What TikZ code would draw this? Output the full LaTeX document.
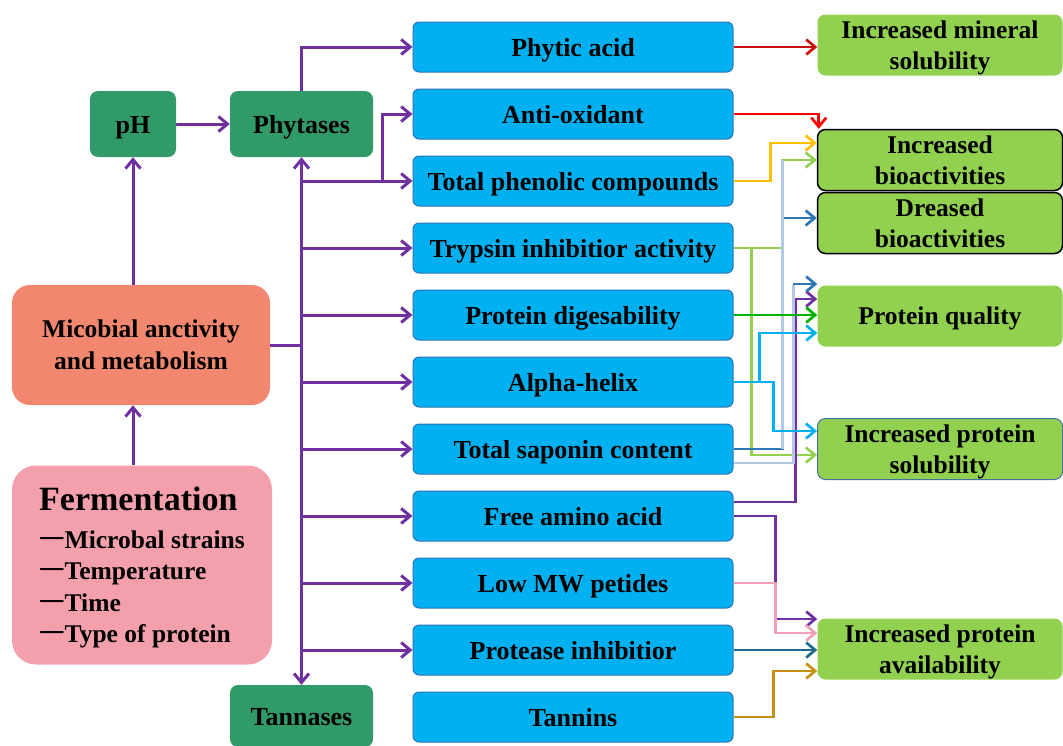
\documentclass[tikz,border=0pt]{standalone}
\usepackage{fontspec}
\setmainfont{Liberation Serif}
\newfontfamily\cjkfont{Noto Sans CJK SC}
\usetikzlibrary{arrows.meta, positioning}

\definecolor{boxblue}{RGB}{0,176,240}
\definecolor{edgeblue}{RGB}{46,117,182}
\definecolor{boxgreen}{RGB}{146,208,80}
\definecolor{enzgreen}{RGB}{48,155,105}
\definecolor{salmon}{RGB}{240,135,110}
\definecolor{rosy}{RGB}{243,160,172}
\definecolor{flowviolet}{RGB}{112,48,160}
\definecolor{golden}{RGB}{197,144,20}
\definecolor{yellowline}{RGB}{255,192,0}
\definecolor{lavender}{RGB}{180,199,231}
\definecolor{darkteal}{RGB}{31,105,140}
\definecolor{pinkline}{RGB}{240,160,180}
\definecolor{solborder}{RGB}{65,113,156}
\definecolor{darkred}{RGB}{200,16,16}

\begin{document}
\begin{tikzpicture}[
  x=1pt, y=-1pt,
  node distance=16pt and 84pt,
  midbox/.style={draw=edgeblue, line width=1pt, fill=boxblue, rounded corners=6pt, minimum width=320pt, minimum height=50pt, text height=18pt, text depth=0pt, font=\fontsize{26}{30}\selectfont\bfseries},
  outbox/.style={fill=boxgreen, rounded corners=8pt, minimum width=245pt, minimum height=61pt, align=center, text depth=0pt, font=\fontsize{25.5}{31}\selectfont\bfseries},
  enzbox/.style={fill=enzgreen, rounded corners=8pt, minimum height=66pt, text height=18pt, text depth=0pt, font=\fontsize{26}{30}\selectfont\bfseries},
  arrow/.style={-{Straight Barb[length=9pt,width=15pt]}, line width=3pt, draw=flowviolet},
  link/.style={-{Straight Barb[length=9pt,width=15pt]}, line width=2.7pt}
  ]
\useasboundingbox (0,0) rectangle (1063,745);

% Nodes
\node[midbox] (phy) at (573,47) {Phytic acid};
\node[midbox, below=of phy] (anti) {Anti-oxidant};
\node[midbox, below=of anti] (tpc) {Total phenolic compounds};
\node[midbox, below=of tpc] (tryp) {Trypsin inhibitior activity};
\node[midbox, below=of tryp] (prot) {Protein digesability};
\node[midbox, below=of prot] (alpha) {Alpha-helix};
\node[midbox, below=of alpha] (sap) {Total saponin content};
\node[midbox, below=of sap] (faa) {Free amino acid};
\node[midbox, below=of faa] (lmw) {Low MW petides};
\node[midbox, below=of lmw] (pi) {Protease inhibitior};
\node[midbox, below=of pi] (tann) {Tannins};

\node[outbox] (mineral) at (940,45) {Increased mineral\\solubility};
\node[outbox, draw=black, line width=1.5pt] (bio) at (940,160) {Increased\\bioactivities};
\node[outbox, draw=black, line width=1.5pt] (dres) at (940,223) {Dreased\\bioactivities};
\node[outbox] (qual) at (940,316) {Protein quality};
\node[outbox, draw=solborder, line width=1pt] (sol) at (940,449) {Increased protein\\solubility};
\node[outbox] (avail) at (940,649) {Increased protein\\availability};

\node[enzbox, minimum width=86pt] (ph) at (133,124) {pH};
\node[enzbox, minimum width=143pt] (phyt) at (301.5,124) {Phytases};
\node[enzbox, minimum width=143pt, minimum height=62pt] (tan) at (301.5,716) {Tannases};

\node[fill=salmon, rounded corners=18pt, minimum width=258pt, minimum height=120pt, align=center, font=\fontsize{25.5}{32}\selectfont\bfseries] (mic) at (141,345) {Micobial anctivity\\and metabolism};
\node[fill=rosy, rounded corners=24pt, minimum width=260pt, minimum height=199pt, align=left, text depth=0pt, font=\fontsize{25.5}{31.5}\selectfont\bfseries] (ferm) at (142,565) {{\fontsize{34}{36}\selectfont Fermentation}\\[6pt]{\cjkfont\mdseries 一}Microbal strains\\{\cjkfont\mdseries 一}Temperature\\{\cjkfont\mdseries 一}Time\\{\cjkfont\mdseries 一}Type of protein};

\coordinate (trunk) at (phyt.south |- mic.east);

% Arrows
\draw[arrow] (ph.south |- ferm.north) -- (ph.south |- mic.south);
\draw[arrow] (ph.south |- mic.north) -- (ph.south);
\draw[arrow] (ph) -- (phyt);
\draw[arrow] (phyt.north) |- (phy.west);
\draw[line width=3pt, flowviolet] (mic.east) -- (trunk);
\draw[arrow] (trunk) -- (phyt.south);
\draw[arrow] (trunk) -- (tan.north);
\foreach \n in {tpc,tryp,prot,alpha,sap,faa,lmw,pi}
  \draw[arrow] (trunk |- \n.west) -- (\n.west);
\draw[arrow] ([xshift=81pt]trunk |- tpc.west) |- (anti.west);

\draw[link, darkred] (phy.east) -- (phy.east -| mineral.west);
\draw[link, red] (anti.east) -| ([xshift=2pt]bio.north west);
\draw[link, yellowline] (tpc.east) -- ++(37,0) |- ([yshift=17pt]bio.west);
\draw[link, boxgreen] (tryp.east) -| ([xshift=-34pt]bio.west) -- (bio.west);
\draw[link, boxgreen] (tryp.east) -- ++(18,0) |- ([yshift=-6pt]sol.west);
\draw[link, edgeblue] (sap.east) -| ([xshift=-34pt,yshift=5pt]dres.west) -- ([yshift=5pt]dres.west);
\draw[line width=2.7pt, lavender] ([xshift=-34pt]bio.west) -- ([xshift=-34pt]bio.west |- sap.east);
\draw[link, flowviolet] ([yshift=14pt]faa.east) -| ([xshift=-22pt,yshift=17pt]qual.west) -- ([yshift=17pt]qual.west);
\draw[line width=2.7pt, lavender] ([yshift=-14pt]sap.east) -| ([xshift=-24pt,yshift=31pt]qual.west);
\draw[link, edgeblue] ([xshift=-24pt,yshift=32pt]qual.west) -- ([yshift=32pt]qual.west);
\draw[link, green!70!black] (prot.east) -- (prot.east -| qual.west);
\draw[link, boxblue] (alpha.east) -- ++(26,0) |- ([yshift=-17pt]qual.west);
\draw[link, boxblue] (alpha.east) -- ++(40,0) |- ([yshift=18pt]sol.west);

\draw[link, flowviolet] (faa.east) -- ++(42,0) |- ([yshift=30pt]avail.west);
\draw[link, pinkline] (lmw.east) -- ++(42,0) |- ([yshift=16pt]avail.west);
\draw[link, darkteal] (pi.east) -- (pi.east -| avail.west);
\draw[link, golden] (tann.east) -- ++(40,0) |- ([yshift=-22pt]avail.west);

\end{tikzpicture}
\end{document}
